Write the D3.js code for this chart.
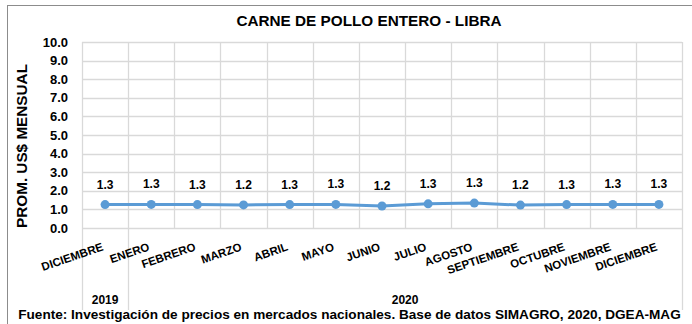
<!DOCTYPE html>
<html>
<head>
<meta charset="utf-8">
<script src="https://cdn.jsdelivr.net/npm/d3@7"></script>
<style>
  html, body { margin: 0; padding: 0; background: #fff; }
  svg { display: block; font-family: "Liberation Sans", Arial, sans-serif; font-weight: bold; }
</style>
</head>
<body>
<script>
// Monthly average price, whole chicken (US$ per pound)
const months = ["DICIEMBRE", "ENERO", "FEBRERO", "MARZO", "ABRIL", "MAYO", "JUNIO",
                "JULIO", "AGOSTO", "SEPTIEMBRE", "OCTUBRE", "NOVIEMBRE", "DICIEMBRE"];
const years = [
  { label: "2019", from: 0, to: 0 },
  { label: "2020", from: 1, to: 12 }
];
const prices = [1.26, 1.27, 1.26, 1.24, 1.26, 1.27, 1.18, 1.30, 1.34, 1.23, 1.26, 1.27, 1.27];
const yTicks = [0, 1, 2, 3, 4, 5, 6, 7, 8, 9, 10];

const title = "CARNE DE POLLO ENTERO - LIBRA";
const yTitle = "PROM. US$ MENSUAL";
const source = "Fuente: Investigación de precios en mercados nacionales. Base de datos SIMAGRO, 2020, DGEA-MAG";

const W = 692, H = 324;
const plot = { left: 82, right: 682, top: 42, bottom: 228 };

const svg = d3.select("body").append("svg").attr("width", W).attr("height", H);

// chart frame
svg.append("rect")
  .attr("x", 7.5).attr("y", 5.5).attr("width", 720).attr("height", 340)
  .attr("fill", "#fff").attr("stroke", "#8c8c8c").attr("stroke-width", 1);

const x = d3.scaleBand().domain(d3.range(months.length)).range([plot.left, plot.right]);
const y = d3.scaleLinear().domain([0, 10]).range([plot.bottom, plot.top]);

const grid = "#d9d9d9";

// horizontal gridlines
svg.append("g").selectAll("line").data(yTicks).join("line")
  .attr("x1", plot.left).attr("x2", plot.right)
  .attr("y1", d => Math.round(y(d)) + 0.5).attr("y2", d => Math.round(y(d)) + 0.5)
  .attr("stroke", grid).attr("stroke-width", 1.3);

// vertical gridlines at category boundaries
const bounds = d3.range(months.length + 1).map(i => i < months.length ? x(i) : x(months.length - 1) + x.bandwidth());
svg.append("g").selectAll("line").data(bounds).join("line")
  .attr("x1", d => Math.round(d) + 0.5).attr("x2", d => Math.round(d) + 0.5)
  .attr("y1", plot.top).attr("y2", plot.bottom)
  .attr("stroke", grid).attr("stroke-width", 1.3);

// year group separators below the axis
const groupEdges = [];
years.forEach(g => { groupEdges.push(x(g.from)); });
groupEdges.push(x(months.length - 1) + x.bandwidth());
svg.append("g").selectAll("line").data(groupEdges).join("line")
  .attr("x1", d => Math.round(d) + 0.5).attr("x2", d => Math.round(d) + 0.5)
  .attr("y1", plot.bottom).attr("y2", 310)
  .attr("stroke", grid).attr("stroke-width", 1.3);

// y axis labels
svg.append("g").selectAll("text").data(yTicks).join("text")
  .attr("x", 68).attr("y", d => y(d)).attr("dy", "0.36em")
  .attr("text-anchor", "end").attr("font-size", 13).attr("fill", "#000")
  .text(d3.format(".1f"));

// month labels
svg.append("g").selectAll("text").data(months).join("text")
  .attr("transform", (d, i) => `translate(${x(i) + x.bandwidth() / 2 - 1},250) rotate(-19)`)
  .attr("text-anchor", "end").attr("font-size", 11.5).attr("fill", "#000")
  .text(d => d);

// year labels
svg.append("g").selectAll("text").data(years).join("text")
  .attr("x", g => (x(g.from) + x(g.to) + x.bandwidth()) / 2).attr("y", 304)
  .attr("text-anchor", "middle").attr("font-size", 12).attr("fill", "#000")
  .text(g => g.label);

// series line
const cx = i => x(i) + x.bandwidth() / 2;
svg.append("path").datum(prices)
  .attr("d", d3.line().x((d, i) => cx(i)).y(d => y(d)))
  .attr("fill", "none").attr("stroke", "#5b9bd5").attr("stroke-width", 3)
  .attr("stroke-linejoin", "round");

svg.append("g").selectAll("circle").data(prices).join("circle")
  .attr("cx", (d, i) => cx(i)).attr("cy", d => y(d)).attr("r", 4.5)
  .attr("fill", "#5b9bd5");

// value labels
svg.append("g").selectAll("text").data(prices).join("text")
  .attr("x", (d, i) => cx(i)).attr("y", d => y(d) - 16)
  .attr("text-anchor", "middle").attr("font-size", 12).attr("fill", "#000")
  .text(d => d.toFixed(1));

// titles
svg.append("text").attr("x", 369).attr("y", 26)
  .attr("text-anchor", "middle").attr("font-size", 15.3).attr("fill", "#000")
  .text(title);

svg.append("text")
  .attr("transform", `translate(27,146) rotate(-90)`)
  .attr("text-anchor", "middle").attr("font-size", 15.3).attr("fill", "#000")
  .text(yTitle);

svg.append("text").attr("x", 349.5).attr("y", 319)
  .attr("text-anchor", "middle").attr("font-size", 13.6).attr("fill", "#000")
  .text(source);
</script>
</body>
</html>
